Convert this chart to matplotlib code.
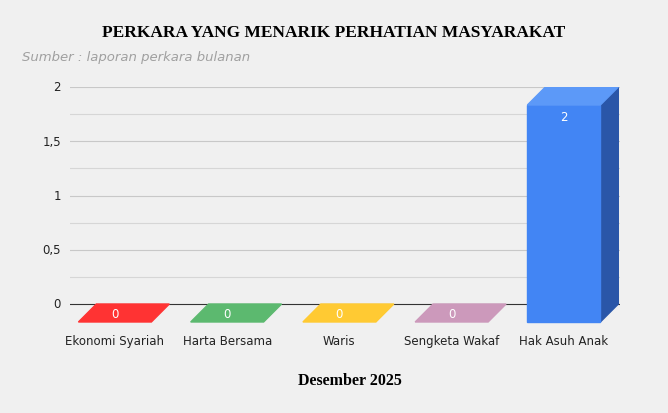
import matplotlib
matplotlib.use("Agg")
import matplotlib.pyplot as plt
from matplotlib.patches import Polygon

categories = ["Ekonomi Syariah", "Harta Bersama", "Waris", "Sengketa Wakaf", "Hak Asuh Anak"]
values = [0, 0, 0, 0, 2]
front_colors = ["#ff3333", "#5cb96f", "#ffca33", "#cc99bb", "#4285f4"]
side_colors = ["#c02020", "#3e8a4f", "#c89a20", "#9a6f8d", "#2a56a8"]
top_colors = ["#ff3333", "#5cb96f", "#ffca33", "#cc99bb", "#5c99f8"]

W, H = 668, 414
fig = plt.figure(figsize=(W/100, H/100), dpi=100, facecolor="#f0f0f0")
ax = fig.add_axes([70/W, (H-330)/H, 550/W, (330-88)/H])
ax.set_facecolor("#f0f0f0")
ylo = -(330-305)/108.5
ax.set_xlim(-0.4, 4.5)
ax.set_ylim(ylo, 2)
for s in ax.spines.values():
    s.set_visible(False)
ax.set_xticks([])
ax.set_yticks([])
for g in [i*0.25 for i in range(1, 9)]:
    ax.axhline(g, color="#d6d6d6" if g % 0.5 else "#c8c8c8", lw=0.8, zorder=0)
ax.axhline(0, color="#333333", lw=0.8, zorder=0)
for v, lab in zip([0, 0.5, 1, 1.5, 2], ["0", "0,5", "1", "1,5", "2"]):
    ax.text(-0.48, v, lab, ha="right", va="center", fontsize=8.5, color="#222222")

dx, dy, hw = 0.16, 18/108.5, 0.325
for i, (v, fc, sc, tc) in enumerate(zip(values, front_colors, side_colors, top_colors)):
    x0, x1 = i-hw, i+hw
    b, t = -dy, v-dy
    if v > 0:
        ax.add_patch(Polygon([(x1, b), (x1+dx, b+dy), (x1+dx, t+dy), (x1, t)], color=sc, zorder=2))
        ax.add_patch(Polygon([(x0, b), (x1, b), (x1, t), (x0, t)], color=fc, zorder=3))
    ax.add_patch(Polygon([(x0, t), (x1, t), (x1+dx, t+dy), (x0+dx, t+dy)], color=tc, zorder=3))
    ty = t - 0.11 if v > 0 else t + 0.08
    ax.text(i + (0 if v > 0 else 0.0), ty, f"{v}", ha="center", va="center",
            fontsize=8.5, color="white", zorder=4)
    ax.text(i, -0.335, categories[i], ha="center", va="center", fontsize=8.5,
            color="#222222", clip_on=False)

fig.text(334/W, 1-33/H, "PERKARA YANG MENARIK PERHATIAN MASYARAKAT", ha="center", va="center",
         fontsize=12.5, fontweight="bold", family="Liberation Serif")
fig.text(22/W, 1-58/H, "Sumber : laporan perkara bulanan", ha="left", va="center",
         fontsize=9.5, style="italic", color="#a0a0a0")
fig.text(350/W, 1-381/H, "Desember 2025", ha="center", va="center", fontsize=11.5,
         fontweight="bold", family="Liberation Serif")
fig.savefig("out.png", dpi=100, facecolor=fig.get_facecolor())
